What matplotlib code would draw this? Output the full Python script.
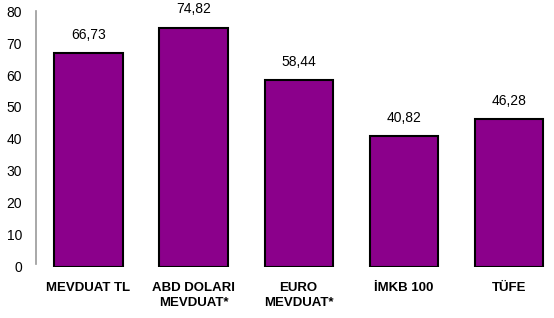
import matplotlib
matplotlib.use('Agg')
from matplotlib import pyplot as plt

categories = ['MEVDUAT TL', 'ABD DOLARI\nMEVDUAT*', 'EURO\nMEVDUAT*', 'İMKB 100', 'TÜFE']
values = [66.73, 74.82, 58.44, 40.82, 46.28]
value_labels = ['66,73', '74,82', '58,44', '40,82', '46,28']
yticks = [0, 10, 20, 30, 40, 50, 60, 70, 80]

plt.rcParams['font.family'] = ['Liberation Sans', 'DejaVu Sans']

fig = plt.figure(figsize=(5.54, 3.18), dpi=100)
ax = fig.add_axes([36 / 554, 0.1604, 1 - 36 / 554, 0.805])

x = list(range(len(categories)))
bars = ax.bar(x, values, width=0.65, color='#8B008B', edgecolor='black', linewidth=1.5)

for bar, lab in zip(bars, value_labels):
    ax.annotate(lab, (bar.get_x() + bar.get_width() / 2, bar.get_height()),
                xytext=(0, 8), textcoords='offset points',
                ha='center', va='bottom', fontsize=10)

ax.set_xlim(-0.5, 4.43)
ax.set_ylim(0, 80)
ax.set_yticks(yticks)
ax.set_xticks(x)
ax.set_xticklabels(categories, fontweight='bold', fontsize=9.5, linespacing=1.25)
ax.tick_params(axis='both', length=0, labelsize=10)
ax.tick_params(axis='x', pad=11, labelsize=9.5)
ax.tick_params(axis='y', pad=10)

for s in ['top', 'right', 'bottom']:
    ax.spines[s].set_visible(False)
ax.spines['left'].set_color('#999999')
ax.spines['left'].set_linewidth(1.2)
ax.spines['left'].set_bounds(1, 80)

fig.savefig('out.png', dpi=100)
